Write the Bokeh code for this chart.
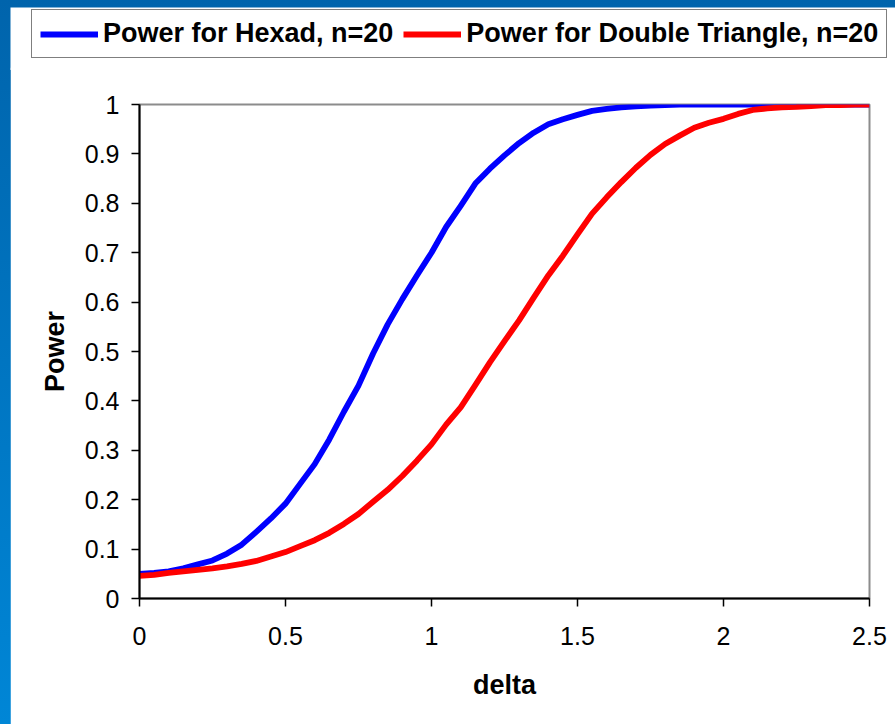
from bokeh.plotting import figure
from bokeh.models import Range1d, Legend, LegendItem, FixedTicker
from bokeh.embed import file_html
from bokeh.resources import INLINE

# ---- data -------------------------------------------------------------
delta = [0.00, 0.05, 0.10, 0.15, 0.20, 0.25, 0.30, 0.35, 0.40, 0.45,
         0.50, 0.55, 0.60, 0.65, 0.70, 0.75, 0.80, 0.85, 0.90, 0.95,
         1.00, 1.05, 1.10, 1.15, 1.20, 1.25, 1.30, 1.35, 1.40, 1.45,
         1.50, 1.55, 1.60, 1.65, 1.70, 1.75, 1.80, 1.85, 1.90, 1.95,
         2.00, 2.05, 2.10, 2.15, 2.20, 2.25, 2.30, 2.35, 2.40, 2.45, 2.50]

power_hexad = [0.050, 0.052, 0.055, 0.061, 0.069, 0.077, 0.091, 0.109, 0.135, 0.162,
               0.192, 0.232, 0.272, 0.322, 0.378, 0.431, 0.496, 0.555, 0.606, 0.654,
               0.700, 0.752, 0.795, 0.840, 0.870, 0.897, 0.922, 0.943, 0.960, 0.970,
               0.979, 0.987, 0.991, 0.994, 0.996, 0.998, 0.999, 1.000, 1.000, 1.000,
               1.000, 1.000, 1.000, 1.000, 1.000, 1.000, 1.000, 1.000, 1.000, 1.000, 1.000]

power_double_triangle = [0.046, 0.048, 0.052, 0.055, 0.058, 0.061, 0.065, 0.070, 0.076, 0.085,
                         0.094, 0.106, 0.118, 0.133, 0.151, 0.171, 0.196, 0.220, 0.248, 0.279,
                         0.312, 0.352, 0.387, 0.432, 0.478, 0.521, 0.563, 0.609, 0.654, 0.694,
                         0.737, 0.779, 0.812, 0.843, 0.872, 0.898, 0.920, 0.937, 0.953, 0.963,
                         0.971, 0.981, 0.989, 0.992, 0.994, 0.995, 0.997, 0.999, 0.999, 1.000, 1.000]

x_ticks = [0, 0.5, 1, 1.5, 2, 2.5]
x_tick_labels = ["0", "0.5", "1", "1.5", "2", "2.5"]
y_ticks = [0, 0.1, 0.2, 0.3, 0.4, 0.5, 0.6, 0.7, 0.8, 0.9, 1]
y_tick_labels = ["0", "0.1", "0.2", "0.3", "0.4", "0.5", "0.6", "0.7", "0.8", "0.9", "1"]

series_names = ["Power for Hexad, n=20", "Power for Double Triangle, n=20"]
series_colors = ["#0000ff", "#ff0000"]
x_title = "delta"
y_title = "Power"

FONT = "Liberation Sans"

# ---- legend strip (above the chart) ----------------------------------
lg = figure(width=885, height=63, output_backend="svg", toolbar_location=None,
            x_axis_type=None, y_axis_type=None, min_border=0,
            x_range=Range1d(0, 2.5), y_range=Range1d(0, 1))
lg.background_fill_color = "white"
lg.border_fill_color = "white"
lg.outline_line_color = None
lg.outline_line_alpha = 0
lg.axis.visible = False
lg.grid.visible = False
k1 = lg.line(delta, power_hexad, line_color=series_colors[0], line_width=6, visible=False)
k2 = lg.line(delta, power_double_triangle, line_color=series_colors[1], line_width=6, visible=False)

legend = Legend(items=[LegendItem(label=series_names[0], renderers=[k1]),
                       LegendItem(label=series_names[1], renderers=[k2])],
                orientation="horizontal", location=(21, 12))
legend.label_text_font = FONT
legend.label_text_font_style = "bold"
legend.label_text_font_size = "27px"
legend.label_text_color = "black"
legend.glyph_width = 58
legend.glyph_height = 30
legend.label_height = 30
legend.label_standoff = 5
legend.spacing = 10
legend.padding = 8
legend.margin = 0
legend.border_line_color = "black"
legend.border_line_width = 1
legend.background_fill_color = "white"
legend.background_fill_alpha = 1.0
lg.add_layout(legend, "center")

# ---- main chart -------------------------------------------------------
p = figure(width=885, height=657, output_backend="svg", toolbar_location=None,
           x_range=Range1d(0, 2.5), y_range=Range1d(0, 1),
           min_border_left=129, min_border_right=26,
           min_border_top=37, min_border_bottom=126)
p.background_fill_color = "white"
p.border_fill_color = "white"
p.outline_line_color = "#8c8c8c"
p.outline_line_width = 2
p.xgrid.visible = False
p.ygrid.visible = False

p.line(delta, power_hexad, line_color=series_colors[0], line_width=5.8, line_join="round")
p.line(delta, power_double_triangle, line_color=series_colors[1], line_width=5.8, line_join="round")

for ax, ticks, labels in ((p.xaxis[0], x_ticks, x_tick_labels), (p.yaxis[0], y_ticks, y_tick_labels)):
    ax.ticker = FixedTicker(ticks=ticks)
    ax.major_label_overrides = {t: l for t, l in zip(ticks, labels)}
    ax.minor_tick_line_color = None
    ax.major_tick_in = 0
    ax.major_tick_out = 8
    ax.major_tick_line_color = "black"
    ax.major_tick_line_width = 1.5
    ax.axis_line_color = "black"
    ax.axis_line_width = 2
    ax.major_label_text_font = FONT
    ax.major_label_text_font_size = "25px"
    ax.major_label_text_color = "black"
    ax.axis_label_text_font = FONT
    ax.axis_label_text_font_style = "bold"
    ax.axis_label_text_font_size = "27px"
    ax.axis_label_text_color = "black"

p.xaxis[0].axis_label = x_title
p.yaxis[0].axis_label = y_title
p.xaxis[0].major_label_standoff = 20
p.yaxis[0].major_label_standoff = 12
p.xaxis[0].axis_label_standoff = 22
p.yaxis[0].axis_label_standoff = 12

html = file_html([lg, p], INLINE, title="Power curves")
html = html.replace("</head>",
                    "<style>html,body{background:linear-gradient(to bottom,#0064ac,#0086d6);}"
                    "body{padding:7px 0 0 10px !important;box-sizing:border-box;"
                    "display:flex !important;flex-direction:column;align-items:flex-start;"
                    "line-height:0;font-size:0;}"
                    "body > div:nth-of-type(2) > *{margin-top:-3px;}</style></head>", 1)
open("out.html", "w").write(html)
